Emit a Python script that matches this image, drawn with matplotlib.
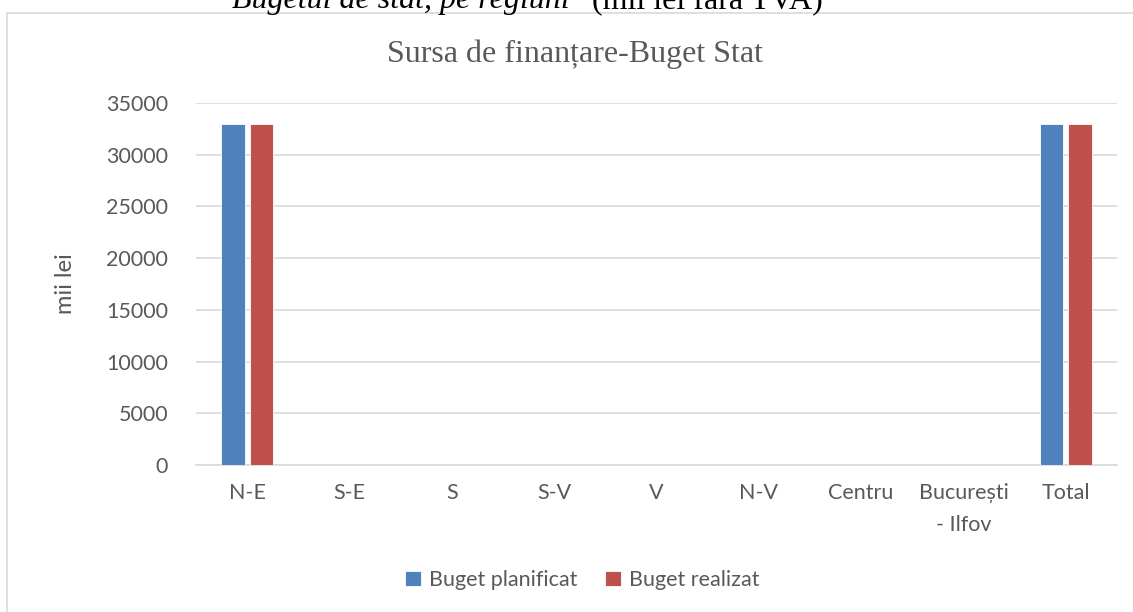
import matplotlib
matplotlib.use("Agg")
import matplotlib.pyplot as plt
import numpy as np
from matplotlib.patches import Rectangle

categories = ["N-E", "S-E", "S", "S-V", "V", "N-V", "Centru", "București\n- Ilfov", "Total"]
buget_planificat = [33000, 0, 0, 0, 0, 0, 0, 0, 33000]
buget_realizat = [33000, 0, 0, 0, 0, 0, 0, 0, 33000]
yticks = [0, 5000, 10000, 15000, 20000, 25000, 30000, 35000]

W, H = 1133, 612
fig = plt.figure(figsize=(W / 100, H / 100), dpi=100)
fig.patch.set_facecolor("white")

# chart border
fig.add_artist(Rectangle((7 / W, -0.1), 1.2, 1 - 13 / H + 0.1, transform=fig.transFigure,
                         fill=False, edgecolor="#d9d9d9", linewidth=1.2))

# cut-off caption above the chart
fig.text(570 / W, 1 - 8 / H, "Bugetul de stat, pe regiuni", family="Liberation Serif",
         style="italic", fontsize=23, ha="right", va="baseline", color="black")
fig.text(592 / W, 1 - 8 / H, "(mii lei fără TVA)", family="Liberation Serif",
         fontsize=23, ha="left", va="baseline", color="black")

ax = fig.add_axes([196 / W, 1 - 465 / H, 921 / W, 362 / H])
x = np.arange(len(categories))
bw = 0.23
off = 0.14
ax.bar(x - off, buget_planificat, bw, color="#4F81BD", edgecolor="white", linewidth=0.6,
       label="Buget planificat", zorder=3)
ax.bar(x + off, buget_realizat, bw, color="#C0504D", edgecolor="white", linewidth=0.6,
       label="Buget realizat", zorder=3)

ax.set_xlim(-0.5, len(categories) - 0.5)
ax.set_ylim(0, 35000)
ax.set_yticks(yticks)
ax.set_yticklabels([str(v) for v in yticks])
ax.set_xticks(x)
ax.set_xticklabels(categories, linespacing=1.75)
ax.yaxis.grid(True, color="#d9d9d9", linewidth=1.2, zorder=0)
ax.set_axisbelow(True)
for s in ["top", "right", "left"]:
    ax.spines[s].set_visible(False)
ax.spines["bottom"].set_color("#d9d9d9")
ax.spines["bottom"].set_linewidth(1.2)
ax.tick_params(axis="both", length=0, labelsize=15.5, labelcolor="#595959")
ax.tick_params(axis="y", pad=20)
ax.tick_params(axis="x", pad=13)
for lbl in ax.get_xticklabels() + ax.get_yticklabels():
    lbl.set_family("Lato")
ax.set_ylabel("mii lei", fontsize=17, color="#595959", family="Lato", labelpad=22)

fig.text(575 / W, 1 - 54 / H, "Sursa de finanțare-Buget Stat", family="Liberation Serif",
         fontsize=23, color="#595959", ha="center", va="center")

leg = fig.legend(loc="center", bbox_to_anchor=(582 / W, 1 - 580 / H), ncol=2, frameon=False,
                 prop={"family": "Lato", "size": 15.5}, handlelength=0.75, handleheight=0.75,
                 columnspacing=1.3, handletextpad=0.35)
for t in leg.get_texts():
    t.set_color("#595959")

fig.savefig("out.png", dpi=100)
